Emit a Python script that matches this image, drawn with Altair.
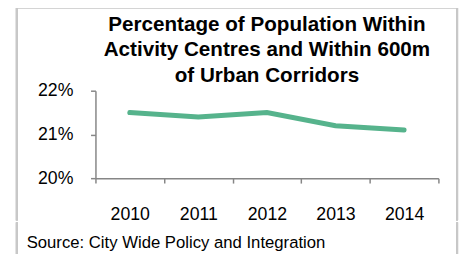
import altair as alt
import pandas as pd

years = ["2010", "2011", "2012", "2013", "2014"]
values = [0.215, 0.214, 0.215, 0.212, 0.211]
y_ticks = [0.20, 0.21, 0.22]
title_lines = ["Percentage of Population Within", "Activity Centres and Within 600m", "of Urban Corridors"]
source_text = "Source: City Wide Policy and Integration"

df = pd.DataFrame({"year": years, "value": values})
FONT = "Liberation Sans"
BORDER = "#c8c8c8"

line = alt.Chart(df).mark_line(color="#56b38c", strokeWidth=5, strokeCap="round").encode(
    x=alt.X("year:O", bandPosition=0.5,
            scale=alt.Scale(type="band", paddingInner=0, paddingOuter=0),
            axis=alt.Axis(title=None, labelAngle=0, tickBand="extent", labelFontSize=18,
                          labelFont=FONT, labelColor="#000000", labelPadding=23, tickSize=5,
                          domainColor="#868686", tickColor="#868686", domainWidth=1.5, tickWidth=1.5)),
    y=alt.Y("value:Q", scale=alt.Scale(domain=[0.20, 0.22]),
            axis=alt.Axis(title=None, values=y_ticks, format=".0%", grid=False, labelFontSize=18,
                          labelFont=FONT, labelColor="#000000", labelPadding=18, tickSize=5,
                          domainColor="#868686", tickColor="#868686", domainWidth=1.5, tickWidth=1.5)),
)

# decorative frame lines (pixel positions relative to plot area)
top_rule = alt.Chart(df).mark_rule(color=BORDER, strokeWidth=2).encode(
    x=alt.value(-80), x2=alt.value(368), y=alt.value(-85))
left_rule1 = alt.Chart(df).mark_rule(color=BORDER, strokeWidth=2).encode(
    x=alt.value(-80), y=alt.value(-85), y2=alt.value(132))
right_rule1 = alt.Chart(df).mark_rule(color=BORDER, strokeWidth=2).encode(
    x=alt.value(368), y=alt.value(-85), y2=alt.value(132))
left_rule2 = alt.Chart(df).mark_rule(color=BORDER, strokeWidth=2).encode(
    x=alt.value(-80), y=alt.value(134), y2=alt.value(170))
right_rule2 = alt.Chart(df).mark_rule(color=BORDER, strokeWidth=2).encode(
    x=alt.value(368), y=alt.value(134), y2=alt.value(170))

title = alt.Chart(pd.DataFrame({"t": ["\n".join(title_lines)]})).mark_text(
    align="center", baseline="alphabetic", fontSize=21, font=FONT, fontWeight="bold",
    color="#000000", lineBreak="\n", lineHeight=26
).encode(x=alt.value(174.5), y=alt.value(-61), text="t:N")

source = alt.Chart(pd.DataFrame({"t": [source_text]})).mark_text(
    align="left", baseline="alphabetic", fontSize=17, font=FONT, color="#000000"
).encode(x=alt.value(-70), y=alt.value(160), text="t:N")

chart = alt.layer(top_rule, left_rule1, right_rule1, left_rule2, right_rule2, line, title, source).properties(
    width=349, height=89,
    autosize=alt.AutoSizeParams(type="none"),
    padding={"left": 89, "top": 82, "right": 24, "bottom": 75},
).configure_view(stroke=None)

chart.save("out.html", embed_options={"renderer": "svg", "actions": False})
